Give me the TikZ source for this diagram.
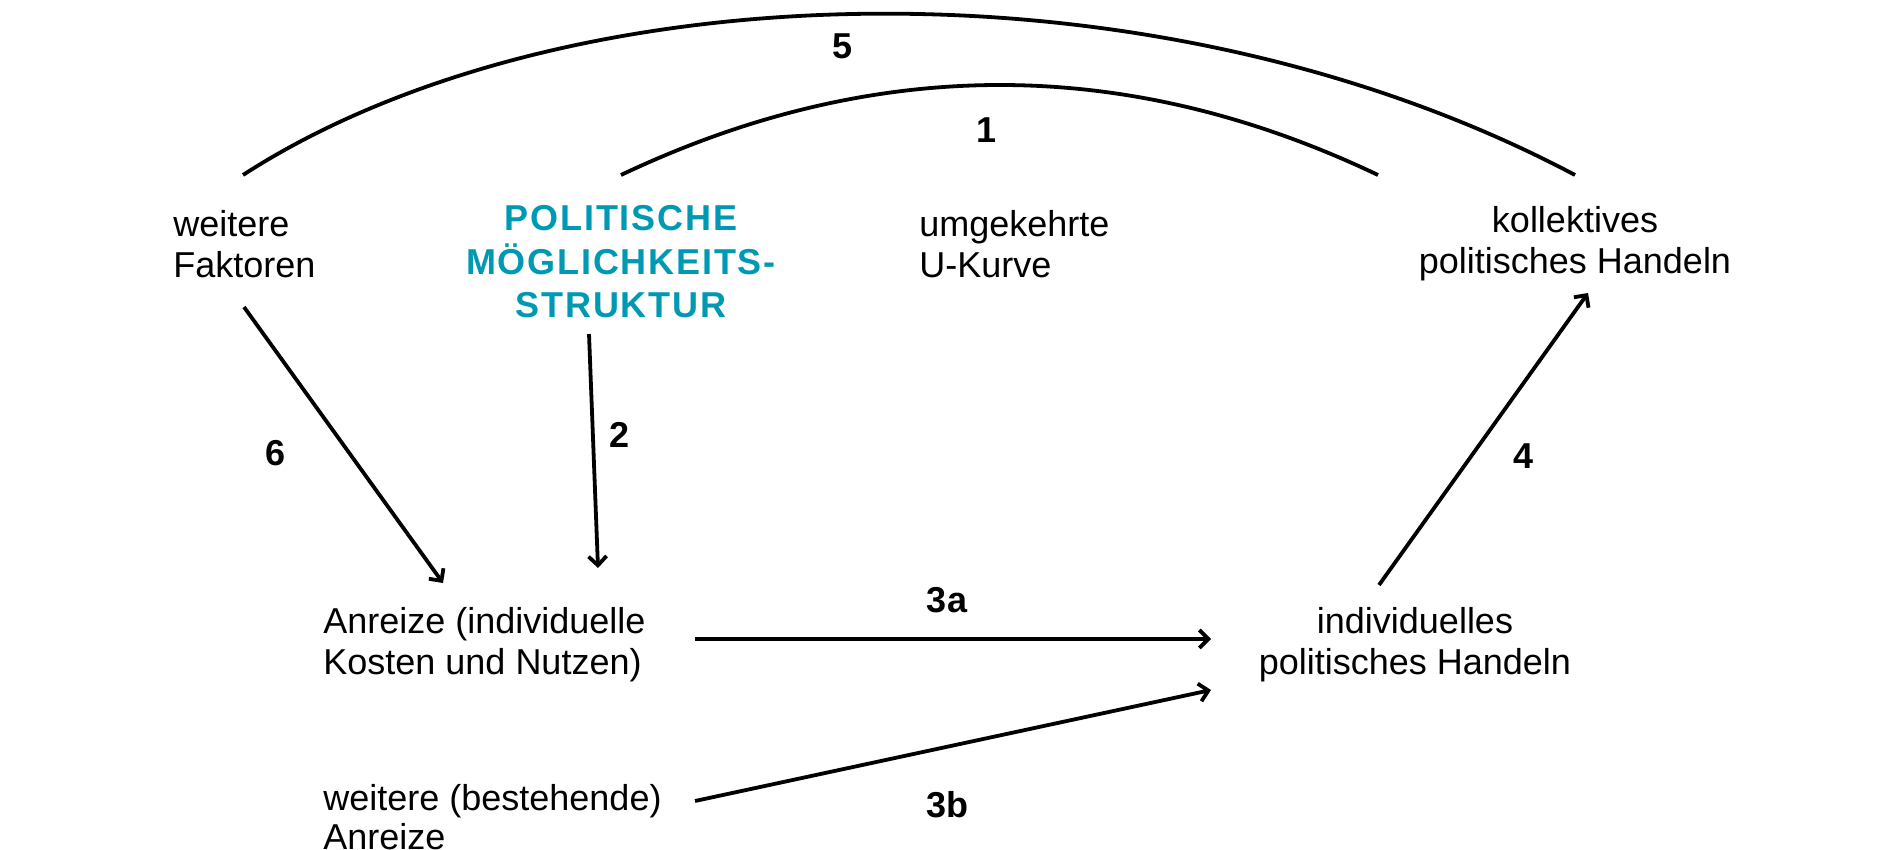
\documentclass[tikz,border=0pt]{standalone}
\usepackage{fontspec}
\setmainfont{Liberation Sans}
\usepackage{xcolor}
\usetikzlibrary{arrows.meta}
\definecolor{pmsteal}{RGB}{0,153,180}

\begin{document}
\begin{tikzpicture}[x=0.5pt,y=-0.5pt,
  txt/.style={inner sep=0pt,font=\fontsize{18pt}{20.5pt}\selectfont},
  num/.style={inner sep=0pt,font=\fontsize{18pt}{20.5pt}\selectfont\bfseries},
  pfeil/.style={line width=1.9pt,-{Straight Barb[length=4.5pt,width=9pt,line width=1.9pt]}},
  bogen/.style={line width=1.9pt}]
\useasboundingbox (0,0) rectangle (1890,850);

\node [txt,align=left,anchor=west] (faktoren) at (173,244) {weitere\\Faktoren};
\node [txt,align=center,text=pmsteal,font=\fontsize{18pt}{21.7pt}\selectfont\bfseries\addfontfeatures{LetterSpace=5}] (pms) at (621,262) {POLITISCHE\\MÖGLICHKEITS-\\STRUKTUR};
\node [txt,align=left,anchor=west] (ukurve) at (919,244) {umgekehrte\\U-Kurve};
\node [txt,align=center] (kollektiv) at (1575,244) {kollektives\\politisches Handeln};
\node [txt,align=left,anchor=west] (anreize) at (323,645) {Anreize (individuelle\\Kosten und Nutzen)};
\node [txt,align=center] (individuell) at (1415,645) {individuelles\\politisches Handeln};
\node [txt,align=left,anchor=west,font=\fontsize{18pt}{19.5pt}\selectfont] (bestehend) at (323,817) {weitere (bestehende)\\Anreize};

%\draw [help lines] (0,0) grid[step=100] (1890,850);
\draw [bogen] ([shift={(70,-69)}]faktoren.west) .. controls (560,-30) and (1150,-50) .. ([shift={(0,-69)}]kollektiv.center);
\draw [bogen] ([shift={(0,-87)}]pms.center) .. controls (874,55) and (1126,55) .. ([shift={(-197,-69)}]kollektiv.center);

\draw [pfeil] ([shift={(71,63)}]faktoren.west) -- ([shift={(120,-62)}]anreize.west);
\draw [pfeil] ([shift={(-32,72)}]pms.center) -- ([shift={(275,-77)}]anreize.west);
\draw [pfeil] ([shift={(372,-6)}]anreize.west) -- ([shift={(-204,-6)}]individuell.center);
\draw [pfeil] ([shift={(372,-16)}]bestehend.west) -- ([shift={(-204,45)}]individuell.center);
\draw [pfeil] ([shift={(-36,-60)}]individuell.center) -- ([shift={(13,49)}]kollektiv.center);

\node [num] (n5) at (843,46) {5};
\node [num] (n1) at (986,130) {1};
\node [num] (n6) at (276,453) {6};
\node [num] (n2) at (620,435) {2};
\node [num] (n3a) at (947,600) {3a};
\node [num] (n3b) at (947,805) {3b};
\node [num] (n4) at (1523,456) {4};
\end{tikzpicture}
\end{document}
